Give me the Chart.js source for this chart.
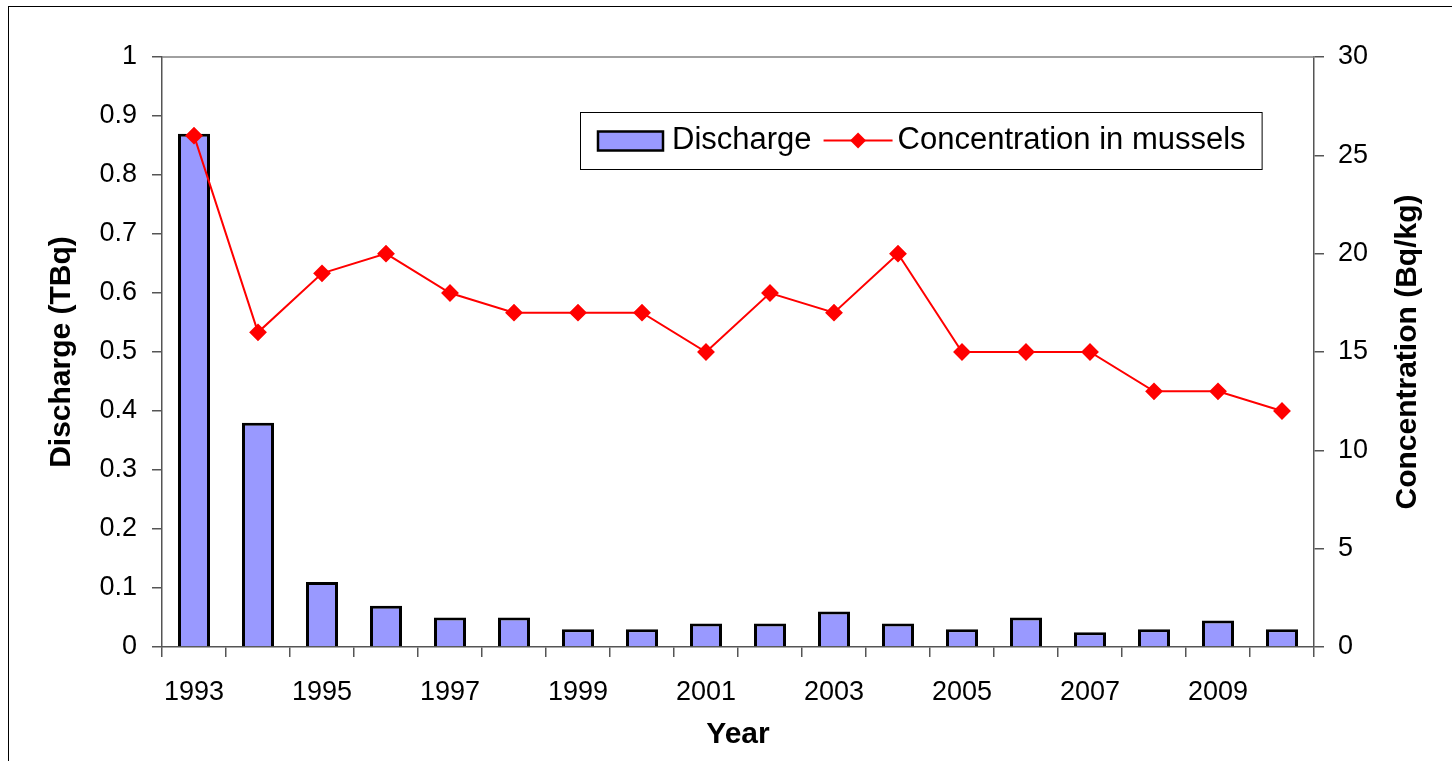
<!DOCTYPE html>
<html>
<head>
<meta charset="utf-8">
<script src="https://cdn.jsdelivr.net/npm/chart.js@4/dist/chart.umd.min.js"></script>
<style>
  html, body { margin: 0; padding: 0; background: #fff; }
  #wrap { width: 1452px; height: 761px; position: relative; }
</style>
</head>
<body>
<div id="wrap"><canvas id="mainChart" width="1452" height="761"></canvas></div>
<script>
const years = ['1993', '1994', '1995', '1996', '1997', '1998', '1999', '2000', '2001',
  '2002', '2003', '2004', '2005', '2006', '2007', '2008', '2009', '2010'];
const discharge = [0.87, 0.38, 0.11, 0.07, 0.05, 0.05, 0.03, 0.03, 0.04,
  0.04, 0.06, 0.04, 0.03, 0.05, 0.025, 0.03, 0.045, 0.03];
const concentration = [26, 16, 19, 20, 18, 17, 17, 17, 15,
  18, 17, 20, 15, 15, 15, 13, 13, 12];
const rightTitle = 'Concentration (Bq/kg)';

const FONT = "'Liberation Sans', Arial, sans-serif";
const axisGray = '#555555';

// outer frame, top edge of the plot area, right axis title (reads bottom to top like Excel)
const framePlugin = {
  id: 'frame',
  beforeDraw(chart) {
    const ctx = chart.ctx;
    ctx.save();
    ctx.fillStyle = '#fff';
    ctx.fillRect(0, 0, chart.width, chart.height);
    ctx.strokeStyle = '#000';
    ctx.lineWidth = 1;
    ctx.strokeRect(8.5, 6.5, chart.width + 20, chart.height + 20);
    ctx.restore();
  },
  afterDraw(chart) {
    const a = chart.chartArea;
    const ctx = chart.ctx;
    ctx.save();
    ctx.strokeStyle = '#808080';
    ctx.lineWidth = 1.5;
    ctx.beginPath();
    ctx.moveTo(a.left, a.top);
    ctx.lineTo(a.right, a.top);
    ctx.stroke();

    const s = chart.scales.y1;
    ctx.translate(s.right - 44, (a.top + a.bottom) / 2);
    ctx.rotate(-Math.PI / 2);
    ctx.font = 'bold 30px ' + FONT;
    ctx.fillStyle = '#000';
    ctx.textAlign = 'center';
    ctx.textBaseline = 'middle';
    ctx.fillText(rightTitle, 0, 0);
    ctx.restore();
  }
};

// Excel style legend box inside the plot
const boxLegend = {
  id: 'boxLegend',
  afterDraw(chart) {
    const ctx = chart.ctx;
    const ds = chart.data.datasets;
    const bar = ds[0], line = ds[1];
    const left = 580, top = 112, h = 57;
    const cy = top + h / 2;
    ctx.save();
    ctx.font = '31px ' + FONT;
    const w1 = ctx.measureText(bar.label).width;
    const w2 = ctx.measureText(line.label).width;
    let x = left + 18;
    const swatchW = 65;
    const lineW = 69;
    const right = x + swatchW + 9 + w1 + 12 + lineW + 5 + w2 + 16;

    ctx.fillStyle = '#fff';
    ctx.fillRect(left, top, right - left, h);
    ctx.strokeStyle = '#000';
    ctx.lineWidth = 1;
    ctx.strokeRect(left + 0.5, top + 0.5, right - left, h);

    // bar swatch
    ctx.fillStyle = bar.backgroundColor;
    ctx.fillRect(x, cy - 9, swatchW, 19);
    ctx.lineWidth = 2.5;
    ctx.strokeRect(x, cy - 9, swatchW, 19);
    x += swatchW + 9;
    ctx.fillStyle = '#000';
    ctx.textBaseline = 'middle';
    ctx.fillText(bar.label, x, cy);
    x += w1 + 12;

    // line swatch with diamond
    ctx.strokeStyle = line.borderColor;
    ctx.lineWidth = 2;
    ctx.beginPath();
    ctx.moveTo(x, cy);
    ctx.lineTo(x + lineW, cy);
    ctx.stroke();
    const mx = x + lineW / 2, r = 8;
    ctx.fillStyle = line.borderColor;
    ctx.beginPath();
    ctx.moveTo(mx, cy - r);
    ctx.lineTo(mx + r, cy);
    ctx.lineTo(mx, cy + r);
    ctx.lineTo(mx - r, cy);
    ctx.closePath();
    ctx.fill();
    x += lineW + 5;
    ctx.fillStyle = '#000';
    ctx.fillText(line.label, x, cy);
    ctx.restore();
  }
};

const ctx = document.getElementById('mainChart').getContext('2d');
const chart = new Chart(ctx, {
  type: 'bar',
  data: {
    labels: years,
    datasets: [
      {
        type: 'bar',
        label: 'Discharge',
        data: discharge,
        backgroundColor: '#9999FF',
        borderColor: '#000000',
        borderWidth: 3,
        barPercentage: 0.5,
        categoryPercentage: 1,
        yAxisID: 'y',
        order: 2
      },
      {
        type: 'line',
        label: 'Concentration in mussels',
        data: concentration,
        borderColor: '#FF0000',
        backgroundColor: '#FF0000',
        borderWidth: 2,
        pointStyle: 'rectRot',
        pointRadius: 7.5,
        pointHoverRadius: 7.5,
        pointBackgroundColor: '#FF0000',
        pointBorderColor: '#FF0000',
        tension: 0,
        yAxisID: 'y1',
        order: 1
      }
    ]
  },
  options: {
    responsive: false,
    animation: false,
    layout: { padding: { top: 57, left: 0, right: 0, bottom: 0 } },
    plugins: {
      legend: { display: false },
      tooltip: { enabled: false }
    },
    scales: {
      x: {
        grid: { drawOnChartArea: false, color: axisGray, tickLength: 10, lineWidth: 1.5 },
        border: { color: axisGray, width: 1.5 },
        ticks: {
          autoSkip: false,
          maxRotation: 0,
          padding: 19,
          color: '#000',
          font: { family: FONT, size: 27 },
          callback: function (val, i) { return i % 2 === 0 ? this.getLabelForValue(val) : ''; }
        },
        title: {
          display: true,
          text: 'Year',
          color: '#000',
          font: { family: FONT, size: 30, weight: 'bold' },
          padding: { top: 0, bottom: 8 }
        },
        afterFit(scale) { scale.height = 114; }
      },
      y: {
        position: 'left',
        min: 0,
        max: 1,
        grid: { drawOnChartArea: false, color: axisGray, tickLength: 10, lineWidth: 1.5 },
        border: { color: axisGray, width: 1.5 },
        ticks: {
          stepSize: 0.1,
          padding: 15,
          color: '#000',
          font: { family: FONT, size: 27 },
          callback: (v) => String(Math.round(v * 10) / 10)
        },
        title: {
          display: true,
          text: 'Discharge (TBq)',
          color: '#000',
          font: { family: FONT, size: 30, weight: 'bold' },
          padding: { top: 44, bottom: 0 }
        },
        afterFit(scale) { scale.width = 162; }
      },
      y1: {
        position: 'right',
        min: 0,
        max: 30,
        grid: { drawOnChartArea: false, color: axisGray, tickLength: 10, lineWidth: 1.5 },
        border: { color: axisGray, width: 1.5 },
        ticks: {
          stepSize: 5,
          padding: 14,
          color: '#000',
          font: { family: FONT, size: 27 }
        },
        title: { display: false },
        afterFit(scale) { scale.width = 138; }
      }
    }
  },
  plugins: [framePlugin, boxLegend]
});
</script>
</body>
</html>
